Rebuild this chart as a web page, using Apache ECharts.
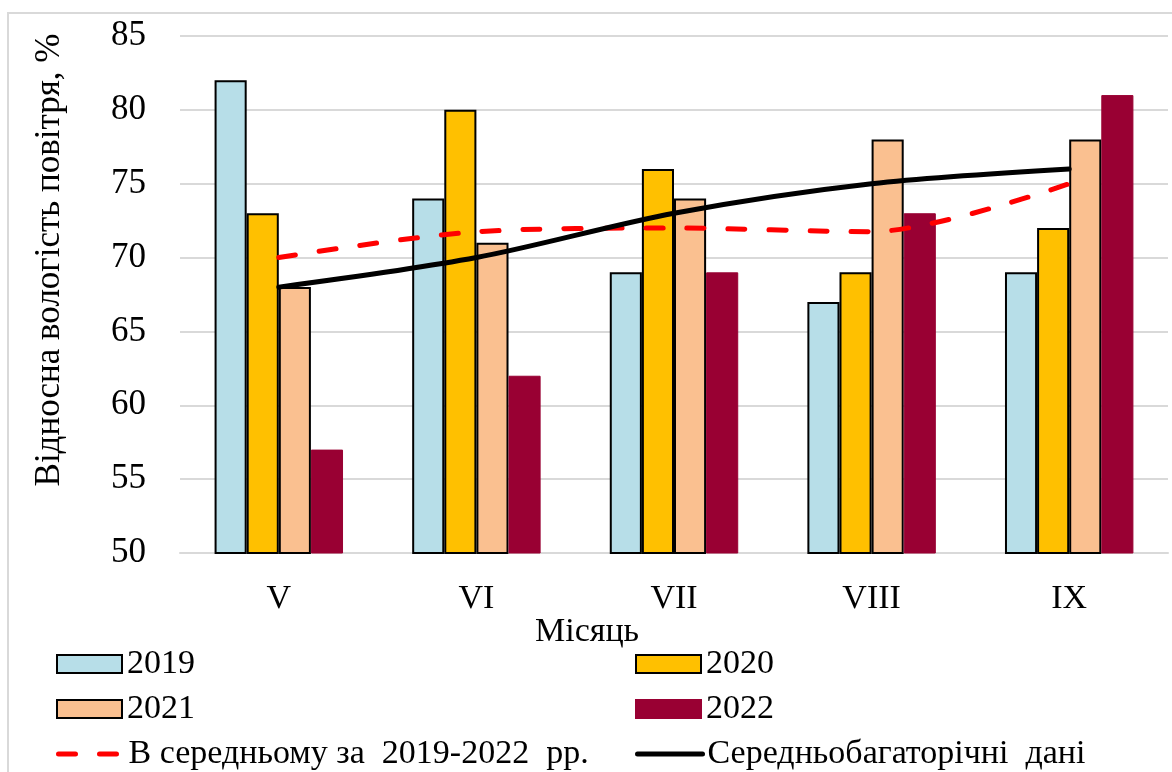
<!DOCTYPE html>
<html>
<head>
<meta charset="utf-8">
<script src="https://cdn.jsdelivr.net/npm/echarts@6/dist/echarts.min.js"></script>
<style>html,body{margin:0;padding:0;background:#fff}#c{width:1172px;height:772px}</style>
</head>
<body>
<div id="c"></div>
<script>
const months = ['V', 'VI', 'VII', 'VIII', 'IX'];
const y2019 = [82, 74, 69, 67, 69];
const y2020 = [73, 80, 76, 69, 72];
const y2021 = [68, 71, 74, 78, 78];
const y2022 = [57, 62, 69, 73, 81];
const avg2019_2022 = [70, 71.75, 72, 71.75, 75];
const longTerm = [68, 70, 73, 75, 76];
const yTicks = {min: 50, max: 85, interval: 5};
const seriesNames = ['2019', '2020', '2021', '2022', 'В середньому за  2019-2022  рр.', 'Середньобагаторічні  дані'];

const font = '"Liberation Serif", "Times New Roman", serif';
const chart = echarts.init(document.getElementById('c'));
const barBorder = {borderColor: '#000', borderWidth: 2};
const legendText = {fontFamily: font, fontSize: 34, color: '#000'};
function legendAt(left, top, item) {
  item.textStyle = legendText;
  return {orient: 'horizontal', left: left, top: top, itemWidth: 65, itemHeight: 18, padding: 0,
    data: [item], textStyle: legendText, selectedMode: false};
}
chart.setOption({
  animation: false,
  textStyle: {fontFamily: font},
  title: {text: 'Місяць', left: 535, top: 615, padding: 0,
    textStyle: {fontFamily: font, fontSize: 34, fontWeight: 'normal', color: '#000'}},
  graphic: [
    {type: 'rect', shape: {x: 8, y: 13, width: 1180, height: 800}, style: {fill: 'none', stroke: '#d9d9d9', lineWidth: 2}, silent: true, z: -1},
    {type: 'text', x: 50, y: 260, rotation: Math.PI / 2,
     style: {text: 'Відносна вологість повітря, %', font: '35px "Liberation Serif", serif', fill: '#000', align: 'center', verticalAlign: 'middle'}}
  ],
  grid: {left: 180, right: 4, top: 36, bottom: 219},
  legend: [
    legendAt(56, 647, {name: seriesNames[0], icon: 'rect'}),
    legendAt(635, 647, {name: seriesNames[1], icon: 'rect'}),
    legendAt(56, 692, {name: seriesNames[2], icon: 'rect'}),
    legendAt(635, 692, {name: seriesNames[3], icon: 'rect'}),
    legendAt(56, 737, {name: seriesNames[4], itemStyle: {opacity: 0}, lineStyle: {width: 5}}),
    legendAt(635, 737, {name: seriesNames[5], itemStyle: {opacity: 0}, lineStyle: {width: 5}})
  ],
  xAxis: {type: 'category', data: months,
    axisLine: {lineStyle: {color: '#d9d9d9', width: 2}}, axisTick: {show: false},
    axisLabel: {fontFamily: font, fontSize: 34, color: '#000', margin: 29}},
  yAxis: {type: 'value', min: yTicks.min, max: yTicks.max, interval: yTicks.interval,
    axisLine: {show: false}, axisTick: {show: false},
    splitLine: {lineStyle: {color: '#d9d9d9', width: 2}},
    axisLabel: {fontFamily: font, fontSize: 35, color: '#000', margin: 34}},
  series: [
    {name: seriesNames[0], type: 'bar', data: y2019, barGap: '0%', barCategoryGap: '35%', itemStyle: Object.assign({color: '#B7DEE8'}, barBorder)},
    {name: seriesNames[1], type: 'bar', data: y2020, itemStyle: Object.assign({color: '#FFC000'}, barBorder)},
    {name: seriesNames[2], type: 'bar', data: y2021, itemStyle: Object.assign({color: '#FAC090'}, barBorder)},
    {name: seriesNames[3], type: 'bar', data: y2022, itemStyle: {color: '#990033', borderColor: '#990033', borderWidth: 1}},
    {name: seriesNames[4], type: 'line', data: avg2019_2022, smooth: 0.3, symbol: 'none',
     lineStyle: {color: '#FF0000', width: 5, type: [17, 24], cap: 'round'}, itemStyle: {color: '#FF0000'}, z: 5},
    {name: seriesNames[5], type: 'line', data: longTerm, smooth: 0.3, symbol: 'none',
     lineStyle: {color: '#000', width: 5, cap: 'round'}, itemStyle: {color: '#000'}, z: 6}
  ]
});
</script>
</body>
</html>
